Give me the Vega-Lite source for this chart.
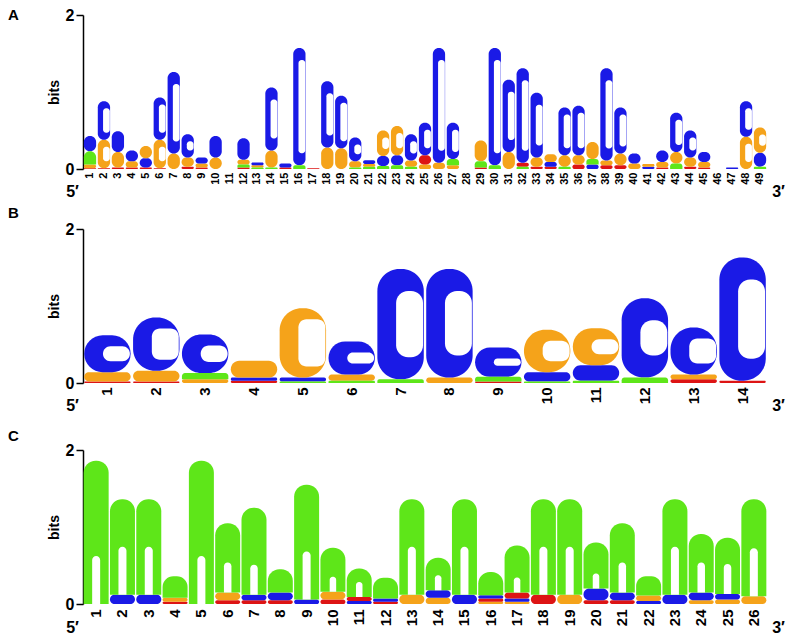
{
  "$schema": "https://vega.github.io/schema/vega-lite/v6.json",
  "background": "white",
  "padding": {"left": 8, "top": 7, "right": 2, "bottom": 0},
  "config": {
    "view": {"stroke": null},
    "font": "Liberation Sans",
    "axis": {"labelColor": "black", "titleColor": "black", "grid": false}
  },
  "datasets": {
    "a": [
      {"pos":1,"base":"T","bits":0.01},{"pos":1,"base":"G","bits":0.05},{"pos":1,"base":"A","bits":0.17},{"pos":1,"base":"C","bits":0.2},
      {"pos":2,"base":"T","bits":0.01},{"pos":2,"base":"G","bits":0.37},{"pos":2,"base":"C","bits":0.5},
      {"pos":3,"base":"T","bits":0.02},{"pos":3,"base":"G","bits":0.2},{"pos":3,"base":"C","bits":0.27},
      {"pos":4,"base":"T","bits":0.02},{"pos":4,"base":"G","bits":0.08},{"pos":4,"base":"C","bits":0.14},
      {"pos":5,"base":"T","bits":0.02},{"pos":5,"base":"C","bits":0.12},{"pos":5,"base":"G","bits":0.16},
      {"pos":6,"base":"T","bits":0.01},{"pos":6,"base":"G","bits":0.37},{"pos":6,"base":"C","bits":0.55},
      {"pos":7,"base":"G","bits":0.2},{"pos":7,"base":"C","bits":1.06},
      {"pos":8,"base":"T","bits":0.03},{"pos":8,"base":"G","bits":0.12},{"pos":8,"base":"C","bits":0.3},
      {"pos":9,"base":"T","bits":0.02},{"pos":9,"base":"G","bits":0.05},{"pos":9,"base":"C","bits":0.08},
      {"pos":10,"base":"G","bits":0.15},{"pos":10,"base":"C","bits":0.28},
      {"pos":12,"base":"T","bits":0.02},{"pos":12,"base":"A","bits":0.04},{"pos":12,"base":"G","bits":0.06},{"pos":12,"base":"C","bits":0.28},
      {"pos":13,"base":"A","bits":0.02},{"pos":13,"base":"G","bits":0.03},{"pos":13,"base":"C","bits":0.035},
      {"pos":14,"base":"A","bits":0.02},{"pos":14,"base":"G","bits":0.22},{"pos":14,"base":"C","bits":0.82},
      {"pos":15,"base":"T","bits":0.02},{"pos":15,"base":"C","bits":0.05},
      {"pos":16,"base":"A","bits":0.05},{"pos":16,"base":"C","bits":1.52},
      {"pos":17,"base":"T","bits":0.01},
      {"pos":18,"base":"G","bits":0.28},{"pos":18,"base":"C","bits":0.86},
      {"pos":19,"base":"G","bits":0.27},{"pos":19,"base":"C","bits":0.68},
      {"pos":20,"base":"A","bits":0.02},{"pos":20,"base":"G","bits":0.08},{"pos":20,"base":"C","bits":0.31},
      {"pos":21,"base":"A","bits":0.03},{"pos":21,"base":"G","bits":0.035},{"pos":21,"base":"C","bits":0.05},
      {"pos":22,"base":"A","bits":0.04},{"pos":22,"base":"C","bits":0.13},{"pos":22,"base":"G","bits":0.33},
      {"pos":23,"base":"A","bits":0.05},{"pos":23,"base":"C","bits":0.13},{"pos":23,"base":"G","bits":0.38},
      {"pos":24,"base":"A","bits":0.03},{"pos":24,"base":"G","bits":0.08},{"pos":24,"base":"C","bits":0.34},
      {"pos":25,"base":"G","bits":0.06},{"pos":25,"base":"T","bits":0.12},{"pos":25,"base":"C","bits":0.42},
      {"pos":26,"base":"G","bits":0.08},{"pos":26,"base":"C","bits":1.49},
      {"pos":27,"base":"G","bits":0.05},{"pos":27,"base":"A","bits":0.08},{"pos":27,"base":"C","bits":0.47},
      {"pos":29,"base":"T","bits":0.02},{"pos":29,"base":"A","bits":0.08},{"pos":29,"base":"G","bits":0.27},
      {"pos":30,"base":"A","bits":0.05},{"pos":30,"base":"C","bits":1.52},
      {"pos":31,"base":"G","bits":0.22},{"pos":31,"base":"C","bits":0.94},
      {"pos":32,"base":"A","bits":0.03},{"pos":32,"base":"T","bits":0.05},{"pos":32,"base":"C","bits":1.23},
      {"pos":33,"base":"T","bits":0.03},{"pos":33,"base":"G","bits":0.12},{"pos":33,"base":"C","bits":0.84},
      {"pos":34,"base":"T","bits":0.03},{"pos":34,"base":"C","bits":0.06},{"pos":34,"base":"G","bits":0.1},
      {"pos":35,"base":"A","bits":0.03},{"pos":35,"base":"G","bits":0.15},{"pos":35,"base":"C","bits":0.62},
      {"pos":36,"base":"T","bits":0.06},{"pos":36,"base":"G","bits":0.12},{"pos":36,"base":"C","bits":0.64},
      {"pos":37,"base":"C","bits":0.06},{"pos":37,"base":"A","bits":0.07},{"pos":37,"base":"G","bits":0.22},
      {"pos":38,"base":"T","bits":0.05},{"pos":38,"base":"G","bits":0.06},{"pos":38,"base":"C","bits":1.2},
      {"pos":39,"base":"T","bits":0.05},{"pos":39,"base":"G","bits":0.15},{"pos":39,"base":"C","bits":0.6},
      {"pos":40,"base":"G","bits":0.07},{"pos":40,"base":"C","bits":0.13},
      {"pos":41,"base":"C","bits":0.03},{"pos":41,"base":"G","bits":0.035},
      {"pos":42,"base":"T","bits":0.02},{"pos":42,"base":"G","bits":0.07},{"pos":42,"base":"C","bits":0.15},
      {"pos":43,"base":"A","bits":0.07},{"pos":43,"base":"G","bits":0.15},{"pos":43,"base":"C","bits":0.51},
      {"pos":44,"base":"T","bits":0.03},{"pos":44,"base":"G","bits":0.12},{"pos":44,"base":"C","bits":0.35},
      {"pos":45,"base":"T","bits":0.02},{"pos":45,"base":"G","bits":0.07},{"pos":45,"base":"C","bits":0.13},
      {"pos":47,"base":"C","bits":0.02},
      {"pos":48,"base":"G","bits":0.42},{"pos":48,"base":"C","bits":0.46},
      {"pos":49,"base":"A","bits":0.03},{"pos":49,"base":"C","bits":0.18},{"pos":49,"base":"G","bits":0.33}
    ],
    "b": [
      {"pos":1,"base":"T","bits":0.02},{"pos":1,"base":"G","bits":0.12},{"pos":1,"base":"C","bits":0.48},
      {"pos":2,"base":"T","bits":0.02},{"pos":2,"base":"G","bits":0.14},{"pos":2,"base":"C","bits":0.69},
      {"pos":3,"base":"G","bits":0.05},{"pos":3,"base":"A","bits":0.08},{"pos":3,"base":"C","bits":0.5},
      {"pos":4,"base":"T","bits":0.03},{"pos":4,"base":"C","bits":0.04},{"pos":4,"base":"G","bits":0.22},
      {"pos":5,"base":"A","bits":0.02},{"pos":5,"base":"C","bits":0.05},{"pos":5,"base":"G","bits":0.9},
      {"pos":6,"base":"A","bits":0.03},{"pos":6,"base":"G","bits":0.08},{"pos":6,"base":"C","bits":0.43},
      {"pos":7,"base":"A","bits":0.05},{"pos":7,"base":"C","bits":1.43},
      {"pos":8,"base":"G","bits":0.07},{"pos":8,"base":"C","bits":1.41},
      {"pos":9,"base":"T","bits":0.02},{"pos":9,"base":"A","bits":0.06},{"pos":9,"base":"C","bits":0.38},
      {"pos":10,"base":"A","bits":0.02},{"pos":10,"base":"C","bits":0.12},{"pos":10,"base":"G","bits":0.55},
      {"pos":11,"base":"A","bits":0.03},{"pos":11,"base":"C","bits":0.2},{"pos":11,"base":"G","bits":0.48},
      {"pos":12,"base":"A","bits":0.07},{"pos":12,"base":"C","bits":1.03},
      {"pos":13,"base":"T","bits":0.05},{"pos":13,"base":"G","bits":0.06},{"pos":13,"base":"C","bits":0.61},
      {"pos":14,"base":"T","bits":0.03},{"pos":14,"base":"C","bits":1.6}
    ],
    "c": [
      {"pos":1,"base":"A","bits":1.86},
      {"pos":2,"base":"C","bits":0.12},{"pos":2,"base":"A","bits":1.24},
      {"pos":3,"base":"C","bits":0.12},{"pos":3,"base":"A","bits":1.24},
      {"pos":4,"base":"T","bits":0.03},{"pos":4,"base":"G","bits":0.05},{"pos":4,"base":"A","bits":0.28},
      {"pos":5,"base":"A","bits":1.86},
      {"pos":6,"base":"T","bits":0.05},{"pos":6,"base":"G","bits":0.1},{"pos":6,"base":"A","bits":0.9},
      {"pos":7,"base":"T","bits":0.05},{"pos":7,"base":"C","bits":0.07},{"pos":7,"base":"A","bits":1.13},
      {"pos":8,"base":"T","bits":0.05},{"pos":8,"base":"C","bits":0.1},{"pos":8,"base":"A","bits":0.3},
      {"pos":9,"base":"C","bits":0.06},{"pos":9,"base":"A","bits":1.49},
      {"pos":10,"base":"T","bits":0.06},{"pos":10,"base":"G","bits":0.1},{"pos":10,"base":"A","bits":0.57},
      {"pos":11,"base":"C","bits":0.04},{"pos":11,"base":"T","bits":0.05},{"pos":11,"base":"A","bits":0.37},
      {"pos":12,"base":"T","bits":0.03},{"pos":12,"base":"C","bits":0.04},{"pos":12,"base":"A","bits":0.27},
      {"pos":13,"base":"G","bits":0.12},{"pos":13,"base":"A","bits":1.24},
      {"pos":14,"base":"G","bits":0.08},{"pos":14,"base":"C","bits":0.1},{"pos":14,"base":"A","bits":0.42},
      {"pos":15,"base":"C","bits":0.12},{"pos":15,"base":"A","bits":1.24},
      {"pos":16,"base":"G","bits":0.03},{"pos":16,"base":"T","bits":0.04},{"pos":16,"base":"C","bits":0.045},{"pos":16,"base":"A","bits":0.3},
      {"pos":17,"base":"G","bits":0.03},{"pos":17,"base":"C","bits":0.04},{"pos":17,"base":"T","bits":0.08},{"pos":17,"base":"A","bits":0.61},
      {"pos":18,"base":"T","bits":0.12},{"pos":18,"base":"A","bits":1.24},
      {"pos":19,"base":"G","bits":0.12},{"pos":19,"base":"A","bits":1.24},
      {"pos":20,"base":"T","bits":0.05},{"pos":20,"base":"C","bits":0.15},{"pos":20,"base":"A","bits":0.6},
      {"pos":21,"base":"T","bits":0.05},{"pos":21,"base":"C","bits":0.1},{"pos":21,"base":"A","bits":0.9},
      {"pos":22,"base":"C","bits":0.04},{"pos":22,"base":"G","bits":0.07},{"pos":22,"base":"A","bits":0.25},
      {"pos":23,"base":"C","bits":0.12},{"pos":23,"base":"A","bits":1.24},
      {"pos":24,"base":"G","bits":0.05},{"pos":24,"base":"C","bits":0.1},{"pos":24,"base":"A","bits":0.76},
      {"pos":25,"base":"G","bits":0.06},{"pos":25,"base":"C","bits":0.07},{"pos":25,"base":"A","bits":0.73},
      {"pos":26,"base":"G","bits":0.1},{"pos":26,"base":"A","bits":1.26}
    ]
  },
  "spacing": 6,
  "vconcat": [
    {
      "width": 684, "height": 154,
      "title": {"text": "A", "anchor": "start", "frame": "group", "dx": -75, "offset": -28, "baseline": "alphabetic", "fontSize": 15, "fontWeight": "bold", "color": "black"},
      "data": {"name": "a"},
      "transform": [{"stack": "bits", "groupby": ["pos"], "sort": [{"field": "bits", "order": "ascending"}], "as": ["y0", "y1"]}],
      "encoding": {
        "x": {"field": "pos", "type": "ordinal", "scale": {"domain": [1,2,3,4,5,6,7,8,9,10,11,12,13,14,15,16,17,18,19,20,21,22,23,24,25,26,27,28,29,30,31,32,33,34,35,36,37,38,39,40,41,42,43,44,45,46,47,48,49], "paddingInner": 0.12, "paddingOuter": 0.06},
          "axis": {"title": "5′", "titleX": -11, "titleY": 22, "titleAngle": 0, "titleAlign": "center", "titleBaseline": "middle", "titleFontSize": 16, "titleFontWeight": "bold", "domain": false, "ticks": false, "labelAngle": -90, "labelFontSize": 11, "labelFontWeight": "bold", "labelPadding": 3}},
        "color": {"field": "base", "type": "nominal", "scale": {"domain": ["A", "C", "G", "T"], "range": ["#5ee619", "#1a1ae6", "#f5a31a", "#dd1414"]}, "legend": null}
      },
      "layer": [
        {
          "transform": [{"filter": "datum.base !== 'A'"}],
          "mark": {"type": "bar", "cornerRadius": 6},
          "encoding": {
            "y": {"field": "y0", "type": "quantitative", "scale": {"domain": [0, 2], "nice": false},
              "axis": {"title": "bits", "values": [0, 1, 2], "format": "d", "domainColor": "black", "domainWidth": 1.5, "tickColor": "black", "tickWidth": 1.5, "tickSize": 7, "labelFontSize": 16, "labelFontWeight": "bold", "labelPadding": 2, "titleFontSize": 14, "titleFontWeight": "bold", "titlePadding": 4}},
            "y2": {"field": "y1"}
          }
        },
        {
          "transform": [{"filter": "datum.base === 'A'"}],
          "mark": {"type": "bar", "cornerRadiusTopLeft": 6, "cornerRadiusTopRight": 6},
          "encoding": {
            "y": {"field": "y0", "type": "quantitative", "scale": {"domain": [0, 2], "nice": false}, "axis": null},
            "y2": {"field": "y1"}
          }
        },
        {
          "transform": [{"filter": "(datum.base === 'C' || datum.base === 'G') && datum.bits >= 0.8"}],
          "mark": {"type": "bar", "width": {"band": 0.55}, "xOffset": 2.5, "yOffset": -12, "y2Offset": 12, "cornerRadius": 3},
          "encoding": {
            "y": {"field": "y0", "type": "quantitative", "scale": {"domain": [0, 2], "nice": false}, "axis": null},
            "y2": {"field": "y1"},
            "color": {"value": "white"}
          }
        },
        {
          "transform": [{"filter": "(datum.base === 'C' || datum.base === 'G') && datum.bits >= 0.3 && datum.bits < 0.8"}],
          "mark": {"type": "bar", "width": {"band": 0.55}, "xOffset": 2.5, "yOffset": -7, "y2Offset": 7, "cornerRadius": 3},
          "encoding": {
            "y": {"field": "y0", "type": "quantitative", "scale": {"domain": [0, 2], "nice": false}, "axis": null},
            "y2": {"field": "y1"},
            "color": {"value": "white"}
          }
        },
        {
          "mark": {"type": "rule", "opacity": 0},
          "encoding": {
            "x": {"value": 0},
            "color": {"value": "white"},
            "y": {"datum": 0, "type": "quantitative", "scale": {"domain": [0, 2], "nice": false},
              "axis": {"orient": "right", "labels": false, "ticks": false, "domain": false, "title": "3′", "titleAngle": 0, "titleX": 11, "titleY": 176, "titleAlign": "center", "titleBaseline": "middle", "titleFontSize": 16, "titleFontWeight": "bold"}}
          }
        }
      ],
      "resolve": {"axis": {"y": "independent"}}
    },
    {
      "spacing": 15,
      "vconcat": [
        {
          "width": 684, "height": 154,
          "title": {"text": "B", "anchor": "start", "frame": "group", "dx": -75, "offset": -11.5, "baseline": "alphabetic", "fontSize": 15, "fontWeight": "bold", "color": "black"},
          "data": {"name": "b"},
          "transform": [{"stack": "bits", "groupby": ["pos"], "sort": [{"field": "bits", "order": "ascending"}], "as": ["y0", "y1"]}],
          "encoding": {
            "x": {"field": "pos", "type": "ordinal", "scale": {"domain": [1,2,3,4,5,6,7,8,9,10,11,12,13,14], "paddingInner": 0.05, "paddingOuter": 0.025},
              "axis": {"title": "5′", "titleX": -11, "titleY": 22, "titleAngle": 0, "titleAlign": "center", "titleBaseline": "middle", "titleFontSize": 16, "titleFontWeight": "bold", "domain": false, "ticks": false, "labelAngle": -90, "labelFontSize": 15, "labelFontWeight": "bold", "labelPadding": 4}},
            "color": {"field": "base", "type": "nominal", "scale": {"domain": ["A", "C", "G", "T"], "range": ["#5ee619", "#1a1ae6", "#f5a31a", "#dd1414"]}, "legend": null}
          },
          "layer": [
            {
              "transform": [{"filter": "datum.base !== 'A'"}],
              "mark": {"type": "bar", "cornerRadius": 22},
              "encoding": {
                "y": {"field": "y0", "type": "quantitative", "scale": {"domain": [0, 2], "nice": false},
                  "axis": {"title": "bits", "values": [0, 1, 2], "format": "d", "domainColor": "black", "domainWidth": 1.5, "tickColor": "black", "tickWidth": 1.5, "tickSize": 7, "labelFontSize": 16, "labelFontWeight": "bold", "labelPadding": 2, "titleFontSize": 14, "titleFontWeight": "bold", "titlePadding": 4}},
                "y2": {"field": "y1"}
              }
            },
            {
              "transform": [{"filter": "datum.base === 'A'"}],
              "mark": {"type": "bar", "cornerRadiusTopLeft": 22, "cornerRadiusTopRight": 22},
              "encoding": {
                "y": {"field": "y0", "type": "quantitative", "scale": {"domain": [0, 2], "nice": false}, "axis": null},
                "y2": {"field": "y1"}
              }
            },
            {
              "transform": [{"filter": "(datum.base === 'C' || datum.base === 'G') && datum.bits >= 1.0"}],
              "mark": {"type": "bar", "width": {"band": 0.58}, "xOffset": 9, "yOffset": -22, "y2Offset": 22, "cornerRadius": 12},
              "encoding": {
                "y": {"field": "y0", "type": "quantitative", "scale": {"domain": [0, 2], "nice": false}, "axis": null},
                "y2": {"field": "y1"},
                "color": {"value": "white"}
              }
            },
            {
              "transform": [{"filter": "(datum.base === 'C' || datum.base === 'G') && datum.bits >= 0.3 && datum.bits < 1.0"}],
              "mark": {"type": "bar", "width": {"band": 0.58}, "xOffset": 9, "yOffset": -11, "y2Offset": 11, "cornerRadius": 8},
              "encoding": {
                "y": {"field": "y0", "type": "quantitative", "scale": {"domain": [0, 2], "nice": false}, "axis": null},
                "y2": {"field": "y1"},
                "color": {"value": "white"}
              }
            },
            {
              "mark": {"type": "rule", "opacity": 0},
              "encoding": {
                "x": {"value": 0},
                "color": {"value": "white"},
                "y": {"datum": 0, "type": "quantitative", "scale": {"domain": [0, 2], "nice": false},
                  "axis": {"orient": "right", "labels": false, "ticks": false, "domain": false, "title": "3′", "titleAngle": 0, "titleX": 11, "titleY": 176, "titleAlign": "center", "titleBaseline": "middle", "titleFontSize": 16, "titleFontWeight": "bold"}}
              }
            }
          ],
          "resolve": {"axis": {"y": "independent"}}
        },
        {
          "width": 684, "height": 154,
          "title": {"text": "C", "anchor": "start", "frame": "group", "dx": -75, "offset": -13.8, "baseline": "alphabetic", "fontSize": 15, "fontWeight": "bold", "color": "black"},
          "data": {"name": "c"},
          "transform": [{"stack": "bits", "groupby": ["pos"], "sort": [{"field": "bits", "order": "ascending"}], "as": ["y0", "y1"]}],
          "encoding": {
            "x": {"field": "pos", "type": "ordinal", "scale": {"domain": [1,2,3,4,5,6,7,8,9,10,11,12,13,14,15,16,17,18,19,20,21,22,23,24,25,26], "paddingInner": 0.05, "paddingOuter": 0.025},
              "axis": {"title": "5′", "titleX": -11, "titleY": 23, "titleAngle": 0, "titleAlign": "center", "titleBaseline": "middle", "titleFontSize": 16, "titleFontWeight": "bold", "domain": false, "ticks": false, "labelAngle": -90, "labelFontSize": 15, "labelFontWeight": "bold", "labelPadding": 5}},
            "color": {"field": "base", "type": "nominal", "scale": {"domain": ["A", "C", "G", "T"], "range": ["#5ee619", "#1a1ae6", "#f5a31a", "#dd1414"]}, "legend": null}
          },
          "layer": [
            {
              "transform": [{"filter": "datum.base !== 'A'"}],
              "mark": {"type": "bar", "cornerRadius": 12},
              "encoding": {
                "y": {"field": "y0", "type": "quantitative", "scale": {"domain": [0, 2], "nice": false},
                  "axis": {"title": "bits", "values": [0, 1, 2], "format": "d", "domainColor": "black", "domainWidth": 1.5, "tickColor": "black", "tickWidth": 1.5, "tickSize": 7, "labelFontSize": 16, "labelFontWeight": "bold", "labelPadding": 2, "titleFontSize": 14, "titleFontWeight": "bold", "titlePadding": 4}},
                "y2": {"field": "y1"}
              }
            },
            {
              "transform": [{"filter": "datum.base === 'A'"}],
              "mark": {"type": "bar", "cornerRadiusTopLeft": 12, "cornerRadiusTopRight": 12},
              "encoding": {
                "y": {"field": "y0", "type": "quantitative", "scale": {"domain": [0, 2], "nice": false}, "axis": null},
                "y2": {"field": "y1"}
              }
            },
            {
              "transform": [{"filter": "datum.base === 'A' && datum.bits >= 1.2"}],
              "mark": {"type": "bar", "width": {"band": 0.32}, "y2Offset": -48, "cornerRadiusTopLeft": 4, "cornerRadiusTopRight": 4},
              "encoding": {
                "y": {"field": "y0", "type": "quantitative", "scale": {"domain": [0, 2], "nice": false}, "axis": null},
                "y2": {"field": "y0"},
                "color": {"value": "white"}
              }
            },
            {
              "transform": [{"filter": "datum.base === 'A' && datum.bits >= 0.7 && datum.bits < 1.2"}],
              "mark": {"type": "bar", "width": {"band": 0.3}, "y2Offset": -30, "cornerRadiusTopLeft": 4, "cornerRadiusTopRight": 4},
              "encoding": {
                "y": {"field": "y0", "type": "quantitative", "scale": {"domain": [0, 2], "nice": false}, "axis": null},
                "y2": {"field": "y0"},
                "color": {"value": "white"}
              }
            },
            {
              "transform": [{"filter": "datum.base === 'A' && datum.bits >= 0.35 && datum.bits < 0.7"}],
              "mark": {"type": "bar", "width": {"band": 0.26}, "y2Offset": -15, "cornerRadiusTopLeft": 3, "cornerRadiusTopRight": 3},
              "encoding": {
                "y": {"field": "y0", "type": "quantitative", "scale": {"domain": [0, 2], "nice": false}, "axis": null},
                "y2": {"field": "y0"},
                "color": {"value": "white"}
              }
            },
            {
              "mark": {"type": "rule", "opacity": 0},
              "encoding": {
                "x": {"value": 0},
                "color": {"value": "white"},
                "y": {"datum": 0, "type": "quantitative", "scale": {"domain": [0, 2], "nice": false},
                  "axis": {"orient": "right", "labels": false, "ticks": false, "domain": false, "title": "3′", "titleAngle": 0, "titleX": 11, "titleY": 177, "titleAlign": "center", "titleBaseline": "middle", "titleFontSize": 16, "titleFontWeight": "bold"}}
              }
            }
          ],
          "resolve": {"axis": {"y": "independent"}}
        }
      ]
    }
  ]
}
